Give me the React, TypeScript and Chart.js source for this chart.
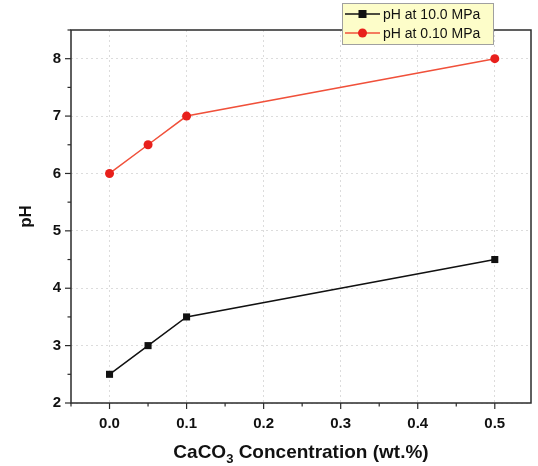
import React, { useEffect, useRef } from "react";
import { Chart, registerables } from "chart.js";

Chart.register(...registerables);

// CaCO3 concentration (wt.%)
const concentrations = [0.0, 0.05, 0.1, 0.5];
// pH measured at the two pressures
const phHighPressure = [2.5, 3.0, 3.5, 4.5];
const phLowPressure = [6.0, 6.5, 7.0, 8.0];

const seriesLabels = ["pH at 10.0 MPa", "pH at 0.10 MPa"];
const xTickValues = [0.0, 0.1, 0.2, 0.3, 0.4, 0.5];
const yTickValues = [2, 3, 4, 5, 6, 7, 8];

const FONT = "'Liberation Sans', Arial, Helvetica, sans-serif";
const AXIS_COLOR = "#2b2b2b";
const BLACK = "#111111";
const RED = "#e8201c";
const RED_LINE = "#f0503a";

// Frame with outward major/minor ticks, axis titles and the boxed legend
const framePlugin = {
  id: "originFrame",
  afterDraw(chart: any) {
    const { ctx, chartArea } = chart;
    const { left, right, top, bottom } = chartArea;
    const xs = chart.scales.x;
    const ys = chart.scales.y;
    ctx.save();
    ctx.strokeStyle = AXIS_COLOR;
    ctx.lineWidth = 1.5;
    ctx.strokeRect(left, top, right - left, bottom - top);

    // x ticks (below axis)
    ctx.lineWidth = 1.2;
    for (let v = -0.05; v <= 0.5501; v += 0.05) {
      const rv = Math.round(v * 100) / 100;
      const major = Math.abs(rv * 10 - Math.round(rv * 10)) < 1e-6;
      const px = xs.getPixelForValue(rv);
      if (px < left - 0.5 || px > right + 0.5) continue;
      ctx.beginPath();
      ctx.moveTo(px, bottom);
      ctx.lineTo(px, bottom + (major ? 6 : 3.5));
      ctx.stroke();
    }
    // y ticks (left of axis)
    for (let v = 2; v <= 8.5001; v += 0.5) {
      const major = Math.abs(v - Math.round(v)) < 1e-6;
      const py = ys.getPixelForValue(v);
      ctx.beginPath();
      ctx.moveTo(left, py);
      ctx.lineTo(left - (major ? 6 : 3.5), py);
      ctx.stroke();
    }

    // x axis title with subscript
    ctx.fillStyle = "#111";
    ctx.textBaseline = "alphabetic";
    const titleY = 458;
    const big = `bold 19px ${FONT}`;
    const small = `bold 13px ${FONT}`;
    ctx.font = big;
    const p1 = "CaCO";
    const p3 = " Concentration (wt.%)";
    const w1 = ctx.measureText(p1).width;
    const w3 = ctx.measureText(p3).width;
    ctx.font = small;
    const w2 = ctx.measureText("3").width;
    const total = w1 + w2 + w3;
    const cx = (left + right) / 2;
    const x0 = cx - total / 2;
    ctx.textAlign = "left";
    ctx.font = big;
    ctx.fillText(p1, x0, titleY);
    ctx.font = small;
    ctx.fillText("3", x0 + w1, titleY + 5);
    ctx.font = big;
    ctx.fillText(p3, x0 + w1 + w2, titleY);

    // y axis title
    ctx.save();
    ctx.translate(26, (top + bottom) / 2);
    ctx.rotate(-Math.PI / 2);
    ctx.textAlign = "center";
    ctx.textBaseline = "middle";
    ctx.font = `bold 17px ${FONT}`;
    ctx.fillText("pH", 0, 0);
    ctx.restore();

    // legend box
    const bx = 342, by = 3, bw = 151, bh = 41;
    ctx.fillStyle = "#fdfdc9";
    ctx.fillRect(bx, by, bw, bh);
    ctx.strokeStyle = "#a0a0a0";
    ctx.lineWidth = 1;
    ctx.strokeRect(bx + 0.5, by + 0.5, bw, bh);
    const rows = [
      { label: seriesLabels[0], color: BLACK, line: BLACK, shape: "rect", y: 14 },
      { label: seriesLabels[1], color: RED, line: RED_LINE, shape: "circle", y: 33 },
    ];
    ctx.font = `14px ${FONT}`;
    ctx.textAlign = "left";
    ctx.textBaseline = "middle";
    for (const r of rows) {
      ctx.strokeStyle = r.line;
      ctx.lineWidth = 1.5;
      ctx.beginPath();
      ctx.moveTo(bx + 3, r.y);
      ctx.lineTo(bx + 38, r.y);
      ctx.stroke();
      ctx.fillStyle = r.color;
      if (r.shape === "rect") {
        ctx.fillRect(bx + 20.5 - 4, r.y - 4, 8, 8);
      } else {
        ctx.beginPath();
        ctx.arc(bx + 20.5, r.y, 4.5, 0, Math.PI * 2);
        ctx.fill();
      }
      ctx.fillStyle = "#111";
      ctx.fillText(r.label, bx + 41, r.y + 1);
    }
    ctx.restore();
  },
};

export default function App() {
  const canvasRef = useRef<HTMLCanvasElement | null>(null);

  useEffect(() => {
    if (!canvasRef.current) return;
    const chart = new Chart(canvasRef.current, {
      type: "line",
      data: {
        datasets: [
          {
            label: seriesLabels[0],
            data: concentrations.map((x, i) => ({ x, y: phHighPressure[i] })),
            borderColor: BLACK,
            backgroundColor: BLACK,
            borderWidth: 1.5,
            pointStyle: "rect",
            pointRadius: 5,
            pointBorderWidth: 0,
          },
          {
            label: seriesLabels[1],
            data: concentrations.map((x, i) => ({ x, y: phLowPressure[i] })),
            borderColor: RED_LINE,
            backgroundColor: RED,
            borderWidth: 1.5,
            pointStyle: "circle",
            pointRadius: 4.5,
            pointBorderWidth: 0,
          },
        ],
      },
      options: {
        animation: false,
        responsive: true,
        maintainAspectRatio: false,
        layout: { padding: { top: 30, right: 7, left: 0, bottom: 0 } },
        plugins: { legend: { display: false }, tooltip: { enabled: false } },
        scales: {
          x: {
            type: "linear",
            min: -0.05,
            max: 0.547,
            afterFit: (s: any) => {
              s.height = 63;
            },
            afterBuildTicks: (s: any) => {
              s.ticks = xTickValues.map((value) => ({ value }));
            },
            ticks: {
              padding: 12,
              color: "#111",
              font: { family: FONT, size: 15, weight: "bold" },
              callback: (v: any) => Number(v).toFixed(1),
            },
            grid: {
              color: "#dcdcdc",
              lineWidth: 1,
              drawTicks: false,
            },
            border: { display: false, dash: [2, 3] },
          },
          y: {
            type: "linear",
            min: 2,
            max: 8.5,
            afterFit: (s: any) => {
              s.width = 71;
            },
            afterBuildTicks: (s: any) => {
              s.ticks = yTickValues.map((value) => ({ value }));
            },
            ticks: {
              padding: 10,
              color: "#111",
              font: { family: FONT, size: 15, weight: "bold" },
              callback: (v: any) => String(v),
            },
            grid: {
              color: "#dcdcdc",
              lineWidth: 1,
              drawTicks: false,
            },
            border: { display: false, dash: [2, 3] },
          },
        },
      },
      plugins: [framePlugin],
    } as any);
    return () => chart.destroy();
  }, []);

  return (
    <div style={{ position: "fixed", left: 0, top: 0, width: 538, height: 466, background: "#fff" }}>
      <canvas ref={canvasRef} />
    </div>
  );
}
